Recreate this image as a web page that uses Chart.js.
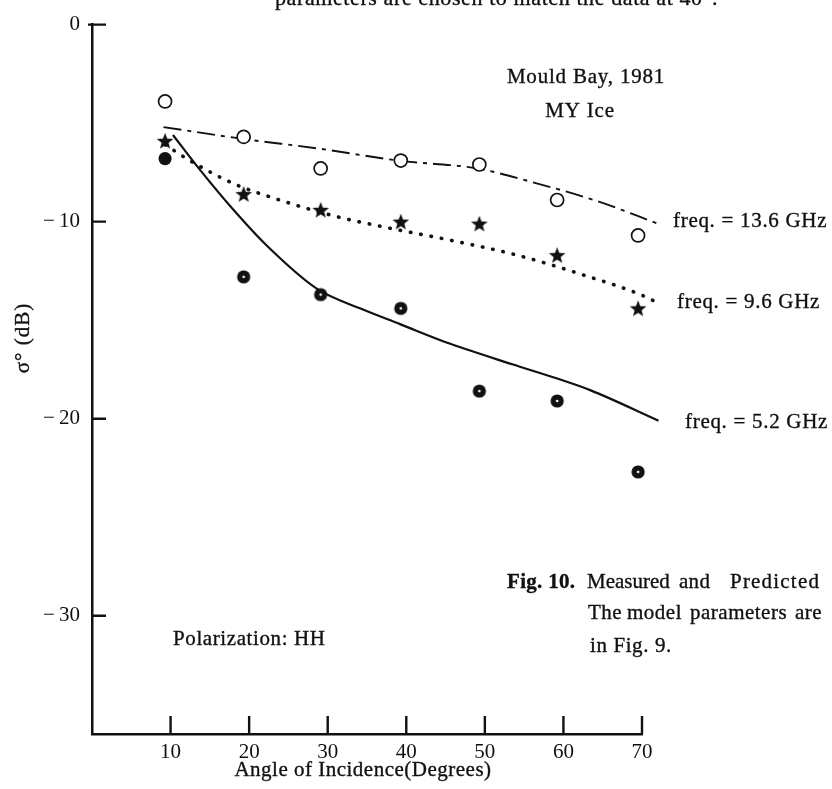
<!DOCTYPE html>
<html>
<head>
<meta charset="utf-8">
<script src="https://cdn.jsdelivr.net/npm/chart.js@4.4.1/dist/chart.umd.min.js"></script>
<style>
  html, body { margin: 0; padding: 0; background: #fff; }
  #wrap { width: 832px; height: 789px; }
</style>
</head>
<body>
<div id="wrap"><canvas id="sigma" width="832" height="789"></canvas></div>
<script>
// measured backscatter, MY ice, HH polarization
const measuredAngles = [9.3, 19.3, 29.1, 39.3, 49.3, 59.2, 69.5];
const sigma136 = [-3.9, -5.7, -7.3, -6.9, -7.1, -8.9, -10.7];
const sigma96 = [-5.9, -8.6, -9.4, -10.0, -10.1, -11.7, -14.4];
const sigma52 = [-6.8, -12.8, -13.7, -14.4, -18.6, -19.1, -22.7];

// model curves
const model136Angles = [9.1, 19.2, 29.0, 39.0, 49.0, 56.1, 64.6, 72.0];
const model136 = [-5.2, -5.8, -6.3, -6.9, -7.3, -8.0, -9.0, -10.1];
const model96Angles = [9.3, 13.3, 18.2, 23.1, 30.7, 37.5, 45.1, 54.1, 62.5, 69.8, 71.9];
const model96 = [-6.1, -7.1, -8.1, -8.8, -9.7, -10.3, -10.9, -11.7, -12.7, -13.7, -14.1];
const model52Angles = [10.3, 13.8, 18.0, 22.2, 28.6, 34.1, 39.2, 45.6, 53.6, 59.1, 63.4, 72.1];
const model52 = [-5.6, -7.4, -9.4, -11.2, -13.4, -14.4, -15.2, -16.2, -17.25, -17.95, -18.55, -20.1];

const xTicks = [10, 20, 30, 40, 50, 60, 70];
const yTicks = [0, -10, -20, -30];

const INK = '#111';
const SERIF = '"Liberation Serif", "DejaVu Serif", serif';

const pairs = (xs, ys) => xs.map((x, i) => ({ x: x, y: ys[i] }));

// filled five-point star marker
function makeStar(r) {
  const c = document.createElement('canvas');
  c.width = c.height = Math.ceil(r * 2 + 2);
  const g = c.getContext('2d');
  const cx = c.width / 2, cy = c.height / 2 + 0.8;
  g.beginPath();
  for (let i = 0; i < 10; i++) {
    const rad = i % 2 === 0 ? r : r * 0.42;
    const a = -Math.PI / 2 + i * Math.PI / 5;
    g.lineTo(cx + rad * Math.cos(a), cy + rad * Math.sin(a));
  }
  g.closePath();
  g.fillStyle = INK;
  g.fill();
  return c;
}

// black dot with the small white speck in the middle
function makeDot(r) {
  const c = document.createElement('canvas');
  c.width = c.height = Math.ceil(r * 2 + 2);
  const g = c.getContext('2d');
  const m = c.width / 2;
  g.beginPath();
  g.arc(m, m, r, 0, Math.PI * 2);
  g.fillStyle = INK;
  g.fill();
  g.beginPath();
  g.arc(m, m, 1.3, 0, Math.PI * 2);
  g.fillStyle = '#fff';
  g.fill();
  return c;
}

const starImg = makeStar(8.7);
const dotImg = makeDot(6.6);

// free text on the figure
const notes = [
  { text: 'parameters are chosen to match the data at 40°.', x: 275, y: 5, size: 22, spacing: 0.6 },
  { text: 'Mould Bay, 1981', x: 586, y: 83, size: 21, spacing: 0.8, align: 'center' },
  { text: 'MY Ice', x: 580, y: 117, size: 21, spacing: 0.8, align: 'center' },
  { text: 'freq. = 13.6 GHz', x: 673, y: 227, size: 21, spacing: 0.7 },
  { text: 'freq. = 9.6 GHz', x: 677, y: 308, size: 21, spacing: 0.7 },
  { text: 'freq. = 5.2 GHz', x: 685, y: 428, size: 21, spacing: 0.7 },
  { text: 'Fig. 10.', x: 507, y: 588, size: 21, spacing: 0.3, bold: true },
  { text: 'Measured', x: 587, y: 588, size: 21, spacing: 0 },
  { text: 'and', x: 679, y: 588, size: 21, spacing: 0.3 },
  { text: 'Predicted', x: 730, y: 588, size: 21, spacing: 1.2 },
  { text: 'The', x: 588, y: 619, size: 21, spacing: 0.5 },
  { text: 'model', x: 627, y: 619, size: 21, spacing: 0.5 },
  { text: 'parameters', x: 690, y: 619, size: 21, spacing: 0.5 },
  { text: 'are', x: 795, y: 619, size: 21, spacing: 0.5 },
  { text: 'in Fig. 9.', x: 590, y: 652, size: 21, spacing: 0.6 },
  { text: 'Polarization: HH', x: 173, y: 645, size: 21, spacing: 0.6 },
  { text: 'Angle of Incidence(Degrees)', x: 363, y: 776, size: 21, spacing: 0.5, align: 'center' }
];

const figureText = {
  id: 'figureText',
  afterDraw(chart) {
    const ctx = chart.ctx;
    const { x, y } = chart.scales;
    const area = chart.chartArea;
    ctx.save();

    // tick marks point into the plot
    ctx.strokeStyle = INK;
    ctx.lineWidth = 2.4;
    ctx.beginPath();
    xTicks.forEach(v => {
      const px = x.getPixelForValue(v);
      ctx.moveTo(px, area.bottom);
      ctx.lineTo(px, area.bottom - 18);
    });
    yTicks.forEach(v => {
      const py = y.getPixelForValue(v);
      ctx.moveTo(area.left - (v === 0 ? 4 : 0), py);
      ctx.lineTo(area.left + 14, py);
    });
    ctx.stroke();

    ctx.fillStyle = INK;
    ctx.strokeStyle = INK;
    ctx.lineWidth = 0.35;
    ctx.textBaseline = 'alphabetic';
    notes.forEach(n => {
      ctx.font = (n.bold ? 'bold ' : '') + n.size + 'px ' + SERIF;
      ctx.letterSpacing = (n.spacing || 0) + 'px';
      ctx.textAlign = n.align || 'left';
      ctx.fillText(n.text, n.x, n.y);
      ctx.strokeText(n.text, n.x, n.y);
    });

    // rotated y axis title
    ctx.translate(29, 338);
    ctx.rotate(-Math.PI / 2);
    ctx.font = '21px ' + SERIF;
    ctx.letterSpacing = '1px';
    ctx.textAlign = 'center';
    ctx.fillText('σ° (dB)', 0, 0);
    ctx.strokeText('σ° (dB)', 0, 0);
    ctx.restore();
  }
};

new Chart(document.getElementById('sigma').getContext('2d'), {
  type: 'scatter',
  data: {
    datasets: [
      {
        label: '13.6 GHz measured',
        data: pairs(measuredAngles, sigma136),
        pointStyle: 'circle',
        pointRadius: 6.5,
        pointBorderWidth: 1.7,
        pointBorderColor: INK,
        pointBackgroundColor: '#fff',
        order: 0
      },
      {
        label: '9.6 GHz measured',
        data: pairs(measuredAngles, sigma96),
        pointStyle: starImg,
        order: 0
      },
      {
        label: '5.2 GHz measured',
        data: pairs(measuredAngles, sigma52),
        pointStyle: ctx => (ctx.dataIndex === 0 ? 'circle' : dotImg),
        pointRadius: 6.6,
        pointBorderWidth: 0,
        pointBackgroundColor: INK,
        order: 0
      },
      {
        label: '13.6 GHz model',
        data: pairs(model136Angles, model136),
        showLine: true,
        pointRadius: 0,
        borderColor: INK,
        borderWidth: 1.9,
        borderDash: [18, 6, 4, 6],
        cubicInterpolationMode: 'monotone',
        order: 1
      },
      {
        label: '9.6 GHz model',
        data: pairs(model96Angles, model96),
        showLine: true,
        pointRadius: 0,
        borderColor: INK,
        borderWidth: 3.6,
        borderDash: [0.5, 10],
        borderCapStyle: 'round',
        cubicInterpolationMode: 'monotone',
        order: 1
      },
      {
        label: '5.2 GHz model',
        data: pairs(model52Angles, model52),
        showLine: true,
        pointRadius: 0,
        borderColor: INK,
        borderWidth: 2.2,
        cubicInterpolationMode: 'monotone',
        order: 1
      }
    ]
  },
  options: {
    responsive: false,
    animation: false,
    clip: false,
    layout: { padding: { top: 16, right: 190, left: 0, bottom: 0 } },
    plugins: {
      legend: { display: false },
      tooltip: { enabled: false }
    },
    scales: {
      x: {
        type: 'linear',
        min: 0,
        max: 70,
        afterBuildTicks: s => { s.ticks = xTicks.map(v => ({ value: v })); },
        afterFit: s => { s.height = 55; },
        grid: { display: false, drawTicks: false },
        border: { display: true, color: INK, width: 2.5 },
        ticks: {
          padding: 6,
          color: INK,
          font: { family: SERIF, size: 21 },
          maxRotation: 0
        }
      },
      y: {
        type: 'linear',
        min: -36,
        max: 0,
        afterBuildTicks: s => { s.ticks = yTicks.map(v => ({ value: v })); },
        afterFit: s => { s.width = 92; },
        grid: { display: false, drawTicks: false },
        border: { display: true, color: INK, width: 2.5 },
        ticks: {
          padding: 12,
          color: INK,
          font: { family: SERIF, size: 21 },
          callback: v => (v < 0 ? '\u2212\u2009' + Math.abs(v) : String(v))
        }
      }
    }
  },
  plugins: [figureText]
});
</script>
</body>
</html>
